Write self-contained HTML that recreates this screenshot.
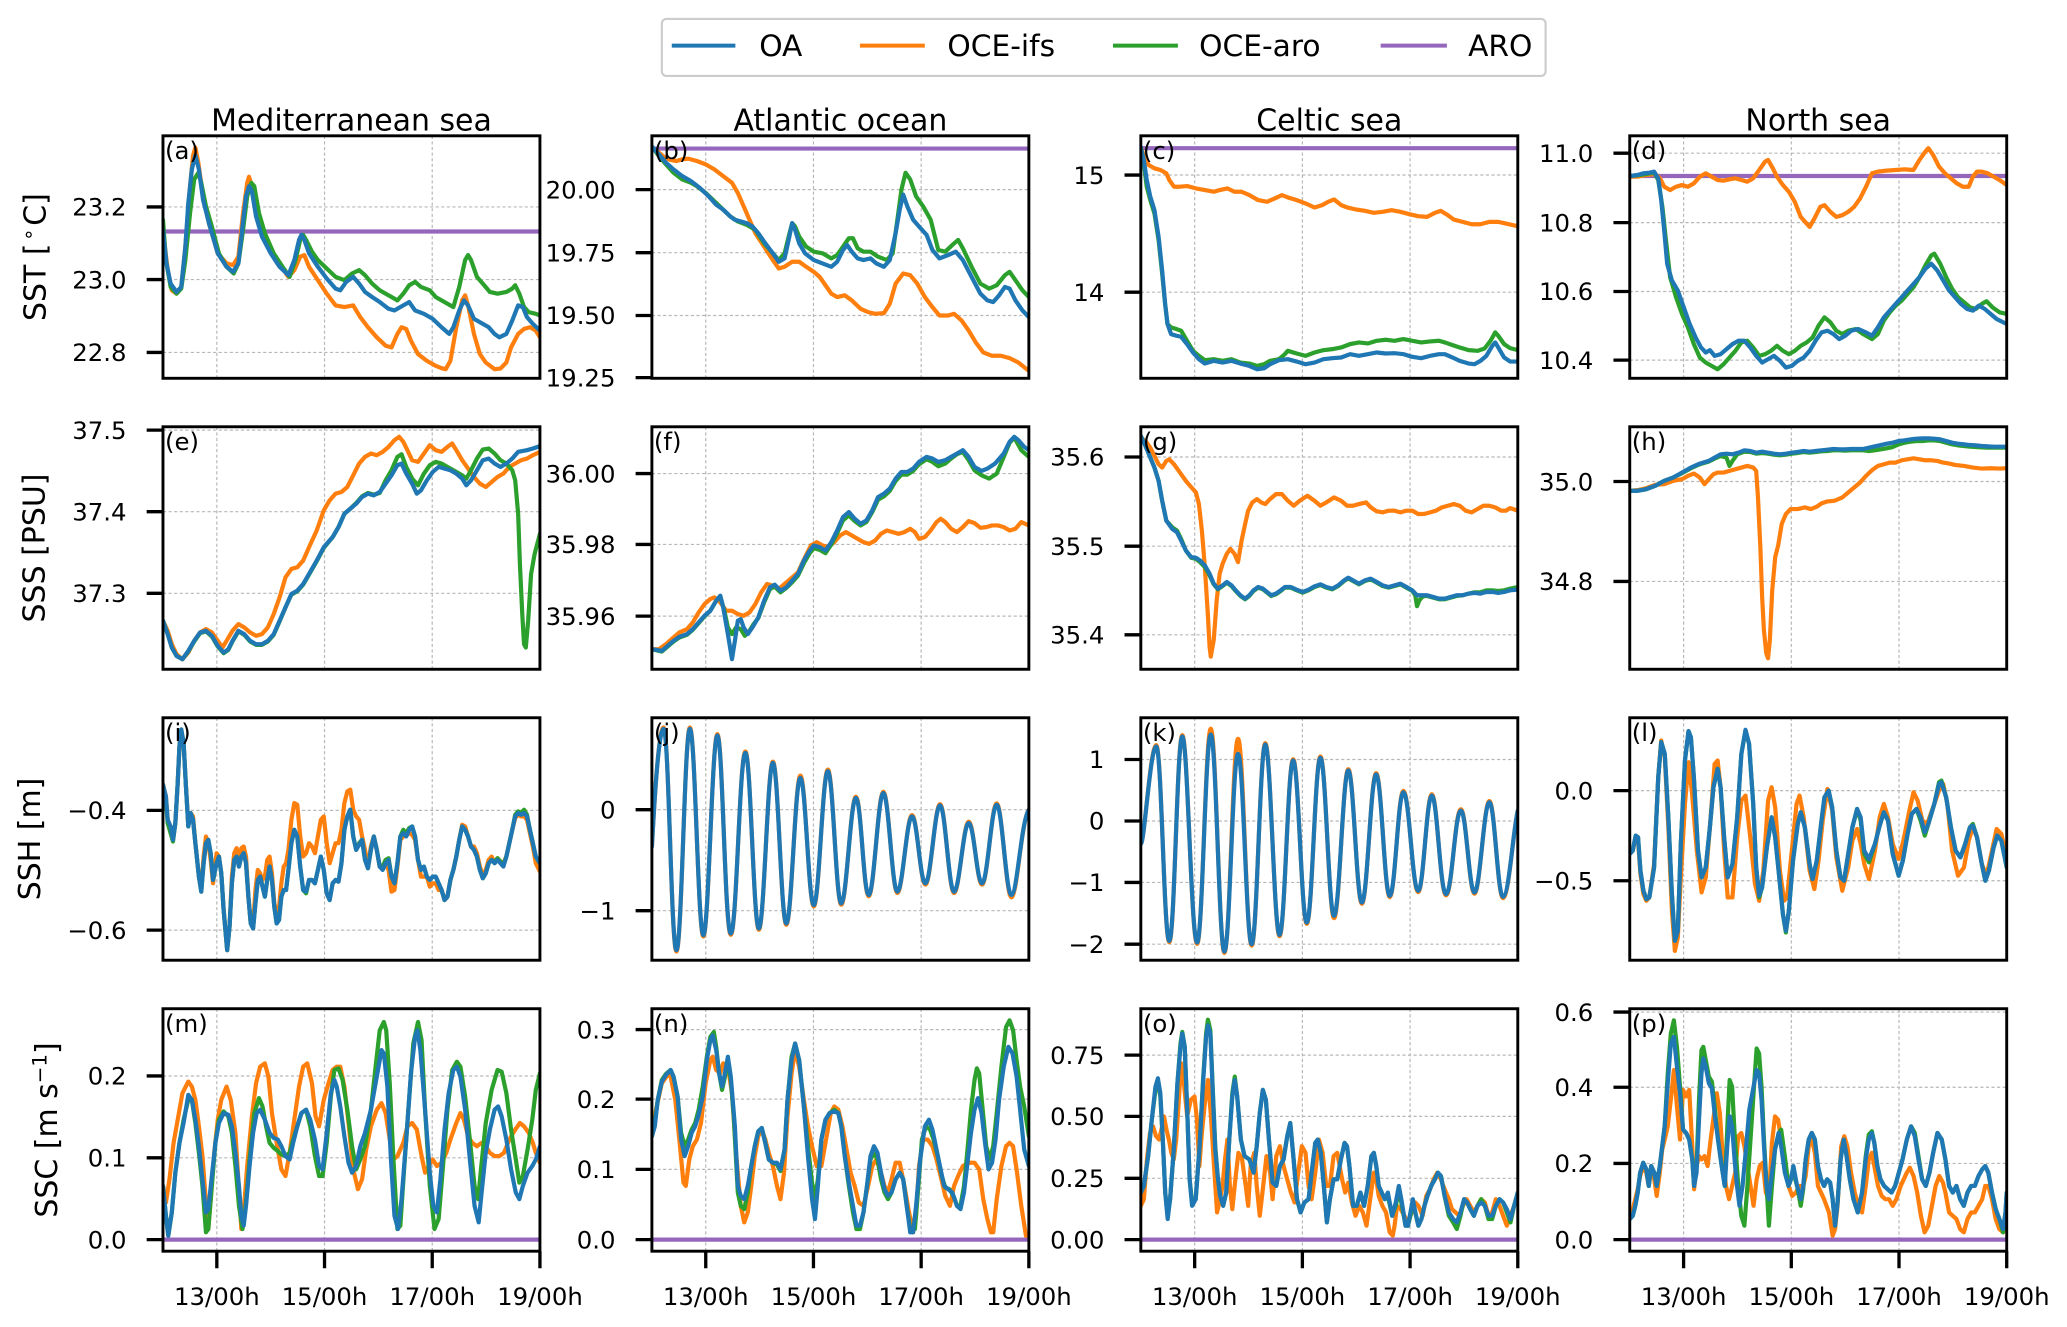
<!DOCTYPE html>
<html><head><meta charset="utf-8"><style>
html,body{margin:0;padding:0;background:#fff;overflow:hidden}
svg{display:block}
.s{fill:none;stroke-width:4.2px;vector-effect:non-scaling-stroke;stroke-linejoin:round;stroke-linecap:round}
.b{stroke:#1f77b4}.o{stroke:#ff7f0e}.g{stroke:#2ca02c}.p{stroke:#9467bd}
.gr{stroke:#b8b8b8;stroke-width:0.9;stroke-dasharray:2.4,1.8;fill:none}
.fr{fill:none;stroke:#000;stroke-width:2.2}
.tk{stroke:#000;stroke-width:2.5}
.tl{font-size:18.4px;fill:#000;text-anchor:end}
.xl{font-size:18.4px;fill:#000;text-anchor:middle}
.pl{font-size:18.4px;fill:#000}
.ti{font-size:22.6px;fill:#000;text-anchor:middle}
.yl{font-size:22.6px;fill:#000;text-anchor:middle}
.lg{font-size:22.4px;fill:#000}
</style></head><body>
<svg xmlns="http://www.w3.org/2000/svg" width="2067" height="1327" viewBox="0 0 2067 1327">
<rect width="2067" height="1327" fill="#fff"/>
<g transform="scale(1.325)" font-family="'DejaVu Sans','Liberation Sans',sans-serif">
<defs>
<clipPath id="ca"><rect x="123" y="102.5" width="284.5" height="183"/></clipPath>
<clipPath id="cb"><rect x="492" y="102.5" width="284.5" height="183"/></clipPath>
<clipPath id="cc"><rect x="861" y="102.5" width="284.5" height="183"/></clipPath>
<clipPath id="cd"><rect x="1230" y="102.5" width="284.5" height="183"/></clipPath>
<clipPath id="ce"><rect x="123" y="322.1" width="284.5" height="183"/></clipPath>
<clipPath id="cf"><rect x="492" y="322.1" width="284.5" height="183"/></clipPath>
<clipPath id="cg"><rect x="861" y="322.1" width="284.5" height="183"/></clipPath>
<clipPath id="ch"><rect x="1230" y="322.1" width="284.5" height="183"/></clipPath>
<clipPath id="ci"><rect x="123" y="541.7" width="284.5" height="183"/></clipPath>
<clipPath id="cj"><rect x="492" y="541.7" width="284.5" height="183"/></clipPath>
<clipPath id="ck"><rect x="861" y="541.7" width="284.5" height="183"/></clipPath>
<clipPath id="cl"><rect x="1230" y="541.7" width="284.5" height="183"/></clipPath>
<clipPath id="cm"><rect x="123" y="761.3" width="284.5" height="183"/></clipPath>
<clipPath id="cn"><rect x="492" y="761.3" width="284.5" height="183"/></clipPath>
<clipPath id="co"><rect x="861" y="761.3" width="284.5" height="183"/></clipPath>
<clipPath id="cp"><rect x="1230" y="761.3" width="284.5" height="183"/></clipPath>
</defs>

<!-- Legend -->
<rect x="499.5" y="14.3" width="667" height="43" rx="3.5" fill="#fff" stroke="#cccccc" stroke-width="1.6"/>
<line x1="507" y1="34.4" x2="555" y2="34.4" stroke="#1f77b4" stroke-width="3"/>
<text class="lg" x="573" y="42.2">OA</text>
<line x1="649" y1="34.4" x2="698" y2="34.4" stroke="#ff7f0e" stroke-width="3"/>
<text class="lg" x="715" y="42.2">OCE-ifs</text>
<line x1="840" y1="34.4" x2="889" y2="34.4" stroke="#2ca02c" stroke-width="3"/>
<text class="lg" x="905" y="42.2">OCE-aro</text>
<line x1="1042" y1="34.4" x2="1092" y2="34.4" stroke="#9467bd" stroke-width="3"/>
<text class="lg" x="1108" y="42.2">ARO</text>

<!-- Titles -->
<text class="ti" x="265.25" y="98.5">Mediterranean sea</text>
<text class="ti" x="634.25" y="98.5">Atlantic ocean</text>
<text class="ti" x="1003.25" y="98.5">Celtic sea</text>
<text class="ti" x="1372.25" y="98.5">North sea</text>

<!-- Y labels -->
<text class="yl" transform="translate(34.5,194) rotate(-90)">SST [<tspan font-size="15" dx="2" dy="-8">∘</tspan><tspan dx="2" dy="8">C]</tspan></text>
<text class="yl" transform="translate(33.5,413.6) rotate(-90)">SSS [PSU]</text>
<text class="yl" transform="translate(30,633.2) rotate(-90)">SSH [m]</text>
<text class="yl" transform="translate(43,852.8) rotate(-90)">SSC [m s<tspan font-size="15" dy="-8">−1</tspan><tspan dy="8">]</tspan></text>

<!-- Gridlines -->
<g class="gr">
<path d="M163.64,102.5V285.5M244.93,102.5V285.5M326.21,102.5V285.5M532.64,102.5V285.5M613.93,102.5V285.5M695.21,102.5V285.5M901.64,102.5V285.5M982.93,102.5V285.5M1064.21,102.5V285.5M1270.64,102.5V285.5M1351.93,102.5V285.5M1433.21,102.5V285.5"/>
<path d="M163.64,322.1V505.1M244.93,322.1V505.1M326.21,322.1V505.1M532.64,322.1V505.1M613.93,322.1V505.1M695.21,322.1V505.1M901.64,322.1V505.1M982.93,322.1V505.1M1064.21,322.1V505.1M1270.64,322.1V505.1M1351.93,322.1V505.1M1433.21,322.1V505.1"/>
<path d="M163.64,541.7V724.7M244.93,541.7V724.7M326.21,541.7V724.7M532.64,541.7V724.7M613.93,541.7V724.7M695.21,541.7V724.7M901.64,541.7V724.7M982.93,541.7V724.7M1064.21,541.7V724.7M1270.64,541.7V724.7M1351.93,541.7V724.7M1433.21,541.7V724.7"/>
<path d="M163.64,761.3V944.3M244.93,761.3V944.3M326.21,761.3V944.3M532.64,761.3V944.3M613.93,761.3V944.3M695.21,761.3V944.3M901.64,761.3V944.3M982.93,761.3V944.3M1064.21,761.3V944.3M1270.64,761.3V944.3M1351.93,761.3V944.3M1433.21,761.3V944.3"/>
<path d="M123,156.2H407.5M123,211H407.5M123,266H407.5"/>
<path d="M492,143.1H776.5M492,190.7H776.5M492,238.1H776.5M492,285H776.5"/>
<path d="M861,132.1H1145.5M861,220.5H1145.5"/>
<path d="M1230,115.6H1514.5M1230,168H1514.5M1230,220H1514.5M1230,271.8H1514.5"/>
<path d="M123,324.6H407.5M123,386.2H407.5M123,447.8H407.5"/>
<path d="M492,357.4H776.5M492,410.9H776.5M492,465H776.5"/>
<path d="M861,344.9H1145.5M861,412.2H1145.5M861,479.1H1145.5"/>
<path d="M1230,363.4H1514.5M1230,438.8H1514.5"/>
<path d="M123,611.6H407.5M123,702H407.5"/>
<path d="M492,611.1H776.5M492,687.3H776.5"/>
<path d="M861,573.2H1145.5M861,619.6H1145.5M861,666H1145.5M861,712.6H1145.5"/>
<path d="M1230,596.7H1514.5M1230,664.7H1514.5"/>
<path d="M123,812.05H407.5M123,873.8H407.5M123,935.55H407.5"/>
<path d="M492,777.05H776.5M492,829.55H776.5M492,882.55H776.5M492,935.55H776.5"/>
<path d="M861,796.3H1145.5M861,842.55H1145.5M861,889.3H1145.5M861,935.55H1145.5"/>
<path d="M1230,763.8H1514.5M1230,820.55H1514.5M1230,878.05H1514.5M1230,935.55H1514.5"/>
</g>

<!-- Panel a -->
<g clip-path="url(#ca)"><g transform="translate(123,102.5) scale(0.44453,0.25346) translate(-57,-50)">
<polyline class="s p" points="40,335 710,335"/>
<polyline class="s o" points="57,330 65,450 72,510 80,520 88,500 95,380 103,200 108,110 112,85 117,130 125,230 135,310 150,400 165,430 176,435 185,410 193,280 200,190 203,172 208,200 218,300 230,360 250,420 262,450 270,470 280,450 290,410 297,405 305,440 320,480 335,520 350,555 365,560 380,555 392,590 405,620 420,650 435,675 445,680 455,640 462,620 470,625 478,660 490,700 505,720 520,735 530,742 537,745 545,720 555,620 565,540 570,525 575,555 585,640 595,700 605,725 620,745 630,743 640,725 648,680 660,640 670,625 680,620 690,630 697,650"/>
<polyline class="s g" points="57,300 62,420 70,500 80,520 88,505 95,420 103,280 110,180 117,160 122,190 130,260 140,320 152,400 165,440 177,460 185,430 193,330 200,230 207,190 212,200 220,280 230,340 245,400 260,440 272,470 282,420 290,360 295,345 300,360 310,395 320,420 335,445 350,470 365,480 378,460 390,450 400,465 412,490 425,510 440,525 455,540 465,520 475,495 485,485 495,500 510,510 520,530 535,545 550,560 560,500 570,420 575,405 580,420 590,470 600,490 612,515 625,520 640,515 650,505 655,495 662,520 670,560 678,575 690,580 697,585"/>
<polyline class="s b" points="57,330 63,430 70,490 80,515 88,500 95,380 100,250 106,150 112,108 118,150 125,240 135,310 150,400 165,440 176,455 185,430 192,320 198,230 203,200 208,215 215,290 225,350 240,400 255,440 270,465 280,420 288,360 292,345 297,360 305,400 320,440 335,475 350,505 358,510 368,485 380,470 390,490 400,515 412,530 425,545 440,565 450,570 460,560 475,545 485,570 500,580 515,595 530,620 543,640 550,620 560,570 568,540 575,555 585,595 595,605 610,620 620,640 628,650 640,640 650,600 660,555 668,560 675,590 685,610 697,630"/>
</g></g>

<!-- Panel b -->
<g clip-path="url(#cb)"><g transform="translate(492,102.5) scale(0.44109,0.25346) translate(-888,-50)">
<polyline class="s p" points="870,88 1550,88"/>
<polyline class="s o" points="888,85 900,100 910,115 920,122 930,125 940,120 950,118 965,125 980,135 995,150 1010,170 1025,190 1035,220 1045,260 1055,300 1065,340 1080,380 1095,420 1105,445 1115,440 1128,425 1140,425 1152,440 1165,455 1175,470 1185,495 1195,520 1205,530 1218,525 1230,540 1245,565 1258,575 1270,580 1285,578 1295,550 1305,490 1318,460 1330,465 1342,490 1355,530 1368,560 1380,585 1395,585 1405,580 1418,600 1430,630 1442,665 1455,695 1470,705 1485,705 1500,712 1515,725 1533,750"/>
<polyline class="s g" points="888,82 900,110 912,135 925,160 940,180 955,190 965,200 980,220 995,245 1010,270 1022,290 1035,305 1050,315 1065,330 1080,370 1095,400 1105,420 1115,400 1122,350 1128,310 1133,320 1140,350 1152,380 1165,395 1180,400 1195,415 1205,405 1215,380 1225,355 1232,355 1240,385 1250,395 1262,395 1275,410 1290,420 1300,400 1308,300 1315,210 1322,160 1330,180 1340,230 1352,260 1365,300 1378,390 1390,395 1402,375 1412,360 1420,385 1435,440 1450,490 1465,505 1478,495 1492,465 1500,455 1510,480 1522,510 1533,530"/>
<polyline class="s b" points="888,82 900,105 912,130 925,150 940,170 955,185 970,205 985,230 998,255 1010,270 1022,290 1030,300 1040,305 1050,310 1060,320 1070,340 1082,370 1095,400 1105,425 1115,415 1122,360 1128,310 1133,330 1140,370 1150,400 1165,420 1180,430 1195,440 1205,425 1215,390 1222,375 1230,395 1240,415 1250,420 1262,415 1272,430 1285,440 1295,420 1305,340 1312,270 1318,225 1325,260 1335,300 1345,320 1358,345 1368,390 1380,415 1395,405 1408,395 1420,420 1435,470 1450,520 1462,540 1472,545 1482,525 1492,500 1500,505 1510,540 1522,570 1533,590"/>
</g></g>

<!-- Panel c -->
<g clip-path="url(#cc)"><g transform="translate(861,102.5) scale(0.44733,0.25276) translate(-52,-48)">
<polyline class="s p" points="35,85 705,85"/>
<polyline class="s o" points="52,82 58,110 65,135 75,145 85,150 95,160 100,180 108,200 118,200 130,198 145,205 160,210 175,215 185,210 198,205 210,215 222,215 235,225 250,240 265,245 278,235 290,225 300,232 315,240 330,250 345,262 358,255 368,245 378,238 390,255 400,262 415,268 430,272 445,278 460,275 475,270 490,275 505,282 520,288 535,290 548,278 558,272 570,285 580,298 595,305 610,312 625,312 640,305 655,305 668,310 688,318"/>
<polyline class="s g" points="52,82 57,130 62,200 68,240 75,280 82,360 88,460 93,550 97,610 103,620 112,625 120,630 130,660 140,690 150,705 160,718 175,715 190,720 205,715 220,725 235,728 248,735 260,730 270,720 285,715 295,700 300,690 315,698 330,705 345,695 360,688 375,685 390,680 405,670 420,665 435,668 450,660 465,657 480,660 495,655 510,660 525,665 540,662 555,660 565,665 578,673 590,680 605,688 620,690 632,683 642,660 650,635 655,645 665,670 675,682 688,688"/>
<polyline class="s b" points="52,82 57,120 62,180 68,230 75,270 82,350 88,450 93,550 97,610 103,640 112,645 120,648 130,670 140,695 150,715 160,728 175,720 190,725 205,720 220,728 235,735 248,745 260,742 270,730 285,718 300,715 315,722 330,730 345,725 360,715 375,712 390,710 405,700 420,705 435,700 450,695 465,698 480,697 495,700 510,708 525,712 540,705 555,700 565,700 578,710 590,720 605,728 615,730 625,720 635,705 645,675 650,665 655,680 665,710 675,722 688,722"/>
</g></g>

<!-- Panel d -->
<g clip-path="url(#cd)"><g transform="translate(1230,102.5) scale(0.44803,0.25276) translate(-877,-48)">
<polyline class="s p" points="860,168 1530,168"/>
<polyline class="s o" points="877,170 890,170 905,165 920,162 928,175 935,200 945,210 955,200 965,195 975,200 985,190 995,170 1005,160 1015,170 1025,180 1035,182 1045,178 1055,175 1065,180 1075,185 1085,175 1095,150 1105,125 1110,120 1118,145 1125,170 1135,195 1145,215 1155,245 1165,290 1175,310 1180,320 1188,295 1198,260 1205,255 1215,275 1225,290 1235,285 1245,275 1255,260 1265,235 1275,200 1285,160 1295,155 1310,152 1325,150 1340,148 1355,150 1365,120 1375,95 1380,85 1388,105 1398,140 1408,160 1418,175 1428,190 1438,200 1448,200 1455,170 1462,155 1470,155 1480,160 1490,170 1500,180 1512,195"/>
<polyline class="s g" points="877,168 890,166 905,162 918,158 925,180 932,260 938,360 945,470 955,530 965,580 975,620 985,670 995,710 1005,725 1015,735 1025,745 1035,730 1045,710 1055,690 1065,665 1075,660 1085,680 1095,705 1105,700 1115,690 1125,675 1135,690 1145,700 1155,690 1165,675 1175,665 1185,650 1195,615 1205,590 1215,605 1225,630 1235,640 1245,630 1258,625 1270,640 1285,655 1295,640 1305,600 1315,575 1325,555 1335,540 1345,520 1355,500 1365,470 1375,435 1385,405 1390,400 1400,430 1410,470 1420,505 1430,530 1440,545 1450,560 1460,565 1470,550 1478,542 1488,560 1500,575 1512,580"/>
<polyline class="s b" points="877,168 890,165 900,160 910,158 918,155 925,175 930,240 935,330 940,430 948,480 958,510 968,560 978,610 988,650 997,680 1005,695 1012,688 1020,705 1030,700 1040,685 1050,670 1060,660 1070,660 1080,680 1090,705 1100,725 1110,715 1120,705 1130,720 1140,740 1150,735 1160,720 1170,710 1180,690 1190,660 1200,635 1210,630 1220,640 1230,655 1240,645 1250,630 1262,625 1275,635 1285,645 1295,620 1305,590 1315,570 1325,550 1335,530 1345,510 1355,490 1365,470 1375,445 1385,430 1395,450 1405,480 1415,510 1425,530 1435,550 1445,565 1455,570 1465,555 1475,565 1485,580 1495,595 1512,610"/>
</g></g>

<!-- Panel e -->
<g clip-path="url(#ce)"><g transform="translate(123,322.1) scale(0.44453,0.25241) translate(-57,-40)">
<polyline class="s o" points="57,620 65,650 72,690 80,720 90,735 100,715 110,680 120,655 130,645 140,655 150,680 158,700 165,680 175,650 185,630 195,640 205,655 215,665 225,660 235,640 245,600 255,550 265,490 275,465 285,460 295,440 305,400 318,350 330,290 340,260 350,240 360,235 370,220 380,185 390,150 400,130 410,120 420,125 430,115 440,100 450,80 458,70 465,85 472,110 480,140 490,145 500,120 510,95 520,110 530,115 540,100 548,90 555,110 565,140 575,165 585,190 595,210 605,220 615,205 625,190 635,180 645,160 655,150 665,140 675,135 685,125 697,115"/>
<polyline class="s g" points="57,620 65,660 72,700 80,725 90,735 100,712 110,682 120,657 130,652 140,667 150,697 160,717 168,707 175,682 185,652 195,662 205,682 215,692 225,692 235,682 245,662 255,622 265,580 275,542 285,532 295,512 305,482 318,442 330,402 345,370 355,340 365,300 375,285 385,268 395,248 405,238 415,243 425,238 435,200 445,170 455,130 462,122 470,160 480,195 490,215 500,180 510,155 520,145 530,150 540,160 550,170 565,185 572,195 580,170 590,135 600,108 610,105 620,120 630,140 640,150 650,170 655,200 660,300 663,450 667,600 670,690 673,700 677,620 682,480 688,420 697,360"/>
<polyline class="s b" points="57,620 65,660 72,700 80,725 90,735 100,710 110,680 120,655 130,650 140,665 150,695 160,715 168,705 175,680 185,650 195,660 205,680 215,690 225,690 235,680 245,660 255,620 265,580 275,540 285,530 295,510 305,480 318,440 330,400 345,370 355,340 365,300 375,285 385,270 395,250 405,240 415,245 425,235 435,210 445,185 455,155 462,150 470,180 480,210 488,240 495,230 505,200 515,175 525,160 535,165 545,170 555,180 565,195 572,215 580,200 590,170 600,140 610,135 620,150 630,160 640,150 650,135 660,115 675,110 685,105 697,98"/>
</g></g>

<!-- Panel f -->
<g clip-path="url(#cf)"><g transform="translate(492,322.1) scale(0.44109,0.25241) translate(-888,-40)">
<polyline class="s o" points="888,705 900,705 912,690 925,670 935,655 948,645 958,625 968,595 978,570 988,555 995,550 1005,565 1015,590 1025,590 1035,600 1045,605 1055,595 1065,570 1075,535 1085,510 1095,515 1105,525 1115,510 1125,495 1138,475 1150,430 1160,395 1170,385 1180,395 1190,400 1200,385 1210,365 1220,355 1230,365 1240,375 1250,385 1260,390 1270,380 1280,360 1290,350 1300,355 1310,360 1320,355 1330,345 1338,355 1345,375 1355,370 1365,350 1375,325 1382,315 1390,325 1400,345 1410,355 1420,340 1430,322 1440,328 1450,342 1460,340 1470,335 1480,335 1490,340 1500,350 1510,345 1520,325 1533,335"/>
<polyline class="s g" points="888,705 895,708 905,712 915,697 925,682 935,670 948,662 958,647 968,627 978,607 988,590 998,560 1005,548 1012,590 1018,640 1025,660 1032,640 1040,645 1047,665 1055,650 1062,630 1070,612 1080,565 1090,525 1098,518 1108,535 1118,522 1128,505 1138,485 1148,448 1158,418 1165,403 1175,408 1185,418 1195,392 1205,358 1215,320 1225,305 1235,322 1245,335 1255,325 1265,295 1275,258 1285,248 1295,232 1305,202 1315,183 1325,183 1335,172 1345,152 1358,137 1368,145 1378,158 1390,150 1400,135 1410,122 1420,115 1430,140 1440,170 1452,185 1465,195 1478,180 1490,130 1500,88 1508,72 1520,110 1533,130"/>
<polyline class="s b" points="888,705 895,707 905,710 915,695 925,680 935,668 948,660 958,645 968,625 978,605 988,590 998,560 1005,545 1010,580 1018,660 1025,735 1030,680 1035,620 1040,615 1045,640 1052,660 1060,640 1070,610 1080,560 1090,520 1098,512 1108,530 1118,520 1128,500 1138,480 1148,440 1158,410 1165,395 1175,400 1185,410 1195,385 1205,350 1215,310 1225,295 1235,315 1245,330 1255,320 1265,290 1275,250 1285,240 1295,225 1305,195 1315,175 1325,175 1335,165 1345,145 1358,130 1368,135 1378,145 1390,140 1400,130 1410,120 1420,110 1430,130 1440,160 1452,172 1462,165 1475,150 1490,120 1500,85 1508,70 1515,80 1525,100 1533,110"/>
</g></g>

<!-- Panel g -->
<g clip-path="url(#cg)"><g transform="translate(861,322.1) scale(0.44733,0.25034) translate(-52,-37)">
<polyline class="s o" points="52,70 60,80 68,100 75,125 82,150 88,160 95,140 100,135 108,150 118,175 128,200 135,215 140,225 145,235 150,270 155,350 160,460 165,600 168,700 170,730 175,680 180,560 185,480 190,450 197,420 203,405 210,420 216,445 222,380 228,330 233,290 240,265 248,255 255,265 262,270 270,255 280,240 290,240 300,260 310,275 320,260 333,245 345,260 355,275 365,265 378,250 390,260 400,275 410,275 420,270 432,265 440,280 450,292 460,295 470,290 480,290 490,295 500,290 510,290 520,300 530,300 540,295 550,290 560,280 570,275 580,270 590,275 600,290 610,295 620,285 630,275 640,275 650,280 660,290 668,290 675,282 688,290"/>
<polyline class="s g" points="52,65 60,95 68,130 75,160 82,200 88,260 95,320 105,340 113,350 120,375 128,410 137,432 145,435 152,445 160,460 168,485 175,512 182,527 190,517 197,507 205,517 212,532 220,547 228,557 235,547 242,532 250,522 258,527 265,537 272,547 280,542 288,532 295,522 305,522 315,530 325,537 335,530 345,520 355,514 365,522 375,527 385,517 395,502 402,494 410,502 420,512 430,502 440,497 450,507 460,517 470,522 480,517 490,512 500,522 510,532 515,545 518,578 522,560 528,548 535,547 545,552 555,557 565,557 575,552 585,547 595,545 605,540 615,536 625,536 635,530 645,530 655,532 665,530 675,525 688,520"/>
<polyline class="s b" points="52,65 60,95 68,130 75,160 82,200 88,260 95,320 105,345 113,355 120,380 128,410 137,430 145,432 152,440 160,455 168,480 175,510 182,525 190,515 197,505 205,515 212,530 220,545 228,555 235,545 242,530 250,520 258,525 265,535 272,545 280,540 288,530 295,520 305,520 315,528 325,535 335,528 345,518 355,512 365,520 375,525 385,515 395,500 402,492 410,500 420,510 430,500 440,495 450,505 460,515 470,520 480,515 490,510 500,520 510,530 518,545 525,545 535,545 545,550 555,555 565,555 575,550 585,545 595,545 605,540 615,538 625,540 635,535 645,535 655,538 665,535 675,530 688,528"/>
</g></g>

<!-- Panel h -->
<g clip-path="url(#ch)"><g transform="translate(1230,322.1) scale(0.44803,0.25034) translate(-877,-37)">
<polyline class="s o" points="877,230 890,228 905,222 920,212 935,210 950,200 965,195 975,185 985,178 995,190 1003,210 1010,195 1018,180 1025,175 1035,175 1045,170 1055,165 1065,160 1075,155 1085,160 1090,170 1093,250 1097,400 1100,550 1103,650 1107,720 1110,735 1113,680 1117,530 1122,430 1127,395 1133,330 1140,300 1148,285 1160,285 1172,280 1182,285 1192,278 1200,268 1210,262 1222,260 1235,250 1245,235 1255,220 1265,205 1275,185 1285,168 1295,155 1305,150 1315,145 1325,145 1335,138 1345,135 1355,132 1365,135 1375,138 1385,138 1395,140 1405,145 1415,148 1425,152 1440,155 1455,160 1470,163 1485,162 1500,163 1512,162"/>
<polyline class="s g" points="877,230 890,230 905,225 920,215 935,200 950,190 965,177 980,162 995,150 1010,142 1020,133 1030,125 1040,130 1045,155 1050,140 1058,120 1070,112 1080,113 1090,118 1100,116 1110,118 1120,121 1130,123 1140,121 1150,118 1160,116 1170,113 1180,115 1190,113 1200,111 1210,110 1220,108 1230,108 1240,109 1250,108 1260,108 1270,108 1280,110 1290,108 1300,105 1310,102 1320,98 1330,90 1340,85 1350,82 1360,80 1370,80 1380,78 1390,78 1400,80 1410,85 1420,90 1430,93 1440,95 1450,97 1460,98 1470,99 1480,100 1490,100 1512,100"/>
<polyline class="s b" points="877,230 890,230 905,225 920,215 935,200 950,190 965,175 980,160 995,148 1010,140 1020,130 1030,120 1040,118 1050,120 1060,115 1070,108 1080,110 1090,115 1100,112 1110,115 1120,118 1130,120 1140,118 1150,115 1160,113 1170,110 1180,112 1190,110 1200,108 1210,106 1220,104 1230,105 1240,105 1250,104 1260,104 1270,104 1280,100 1290,96 1300,92 1310,88 1320,85 1330,80 1340,78 1350,75 1360,73 1370,72 1380,72 1390,73 1400,75 1410,80 1420,85 1430,88 1440,90 1450,92 1460,93 1470,95 1480,96 1490,97 1500,97 1512,97"/>
</g></g>

<!-- Panel i -->
<g clip-path="url(#ci)"><g transform="translate(123,541.7) scale(0.44453,0.25241) translate(-57,-25)">
<polyline class="s o" points="57,225 62,260 65,330 70,370 74,390 78,340 82,220 85,110 88,60 92,100 96,230 100,340 104,310 108,320 112,400 118,500 122,540 126,440 130,380 134,400 138,450 142,520 148,430 152,440 156,490 160,600 164,680 166,720 170,650 174,500 178,430 182,415 186,450 190,415 194,410 198,440 202,560 206,640 210,640 214,540 218,480 222,490 226,510 230,500 234,450 238,440 242,490 246,580 250,610 254,590 258,520 262,470 266,460 270,420 275,330 280,280 285,285 290,380 295,440 300,430 305,400 310,410 315,430 320,380 325,330 330,320 335,400 340,460 345,430 350,400 355,400 360,360 365,280 370,245 375,240 380,300 385,320 390,330 395,380 400,420 405,470 410,410 415,380 420,420 425,470 430,470 435,460 440,480 445,545 450,540 455,470 460,390 465,380 470,375 475,370 480,375 485,390 490,450 495,500 500,500 505,500 510,530 515,520 520,520 525,540 530,540 535,570 540,560 545,510 550,480 555,440 560,390 565,345 570,350 575,380 580,410 585,410 590,430 595,470 600,495 605,480 610,450 615,440 620,460 625,445 630,455 635,460 640,440 645,400 650,360 655,325 660,315 665,320 670,320 675,330 680,370 685,410 690,460 697,485"/>
<polyline class="s g" points="57,225 62,270 65,340 70,370 74,395 78,340 82,220 85,110 88,60 92,100 96,230 100,350 104,310 108,330 112,400 118,500 122,545 126,460 130,400 134,390 138,430 142,510 148,460 152,440 156,490 160,600 164,680 166,720 170,650 174,520 178,450 182,440 186,470 190,440 194,430 198,460 202,560 206,640 210,655 214,580 218,510 222,500 226,530 230,560 234,510 238,470 242,510 246,590 250,640 254,630 258,560 262,540 266,540 270,480 275,400 280,360 285,380 290,470 295,540 300,550 305,510 310,510 315,520 320,480 325,440 330,480 335,550 340,570 345,520 350,510 355,515 360,460 365,360 370,320 375,300 380,380 385,420 390,400 395,390 400,450 405,475 410,420 415,380 420,420 425,470 430,470 435,450 440,445 445,500 450,520 455,460 460,380 465,360 470,370 475,355 480,350 485,380 490,450 495,480 500,470 505,500 510,510 515,500 520,500 525,520 530,540 535,570 540,560 545,510 550,480 555,440 560,390 565,350 570,360 575,380 580,410 585,420 590,440 595,480 600,505 605,490 610,460 615,450 620,455 625,445 630,455 635,465 640,440 645,400 650,360 655,315 660,305 665,310 670,300 675,315 680,360 685,400 690,440 697,460"/>
<polyline class="s b" points="57,225 62,260 65,330 70,350 74,390 78,340 82,220 85,110 88,60 92,100 96,230 100,350 104,310 108,330 112,400 118,500 122,545 126,460 130,400 134,390 138,430 142,510 148,460 152,440 156,490 160,600 164,680 166,720 170,650 174,520 178,450 182,440 186,470 190,440 194,430 198,460 202,560 206,640 210,655 214,580 218,510 222,500 226,530 230,560 234,510 238,470 242,510 246,590 250,640 254,630 258,560 262,540 266,540 270,480 275,400 280,360 285,380 290,470 295,540 300,545 305,510 310,510 315,520 320,480 325,440 330,480 335,550 340,570 345,520 350,510 355,515 360,460 365,360 370,320 375,300 380,380 385,420 390,405 395,390 400,450 405,475 410,420 415,380 420,420 425,470 430,480 435,460 440,450 445,500 450,520 455,460 460,380 465,370 470,380 475,360 480,350 485,380 490,450 495,480 500,470 505,500 510,510 515,500 520,500 525,520 530,540 535,570 540,560 545,510 550,480 555,440 560,390 565,350 570,360 575,380 580,410 585,420 590,440 595,480 600,505 605,490 610,460 615,450 620,460 625,450 630,460 635,470 640,440 645,400 650,360 655,320 660,310 665,315 670,310 675,320 680,360 685,400 690,440 697,460"/>
</g></g>

<!-- Panel j -->
<g clip-path="url(#cj)"><g transform="translate(492,541.7) scale(0.44109,0.25241) translate(-888,-25)">
<path class="s o" d="M888,410 C893,250 900,54 908,54 C917,54 921,724 930,724 C939,724 944,54 953,54 C962,54 967,679 976,679 C985,679 991,74 1000,74 C1009,74 1013,674 1023,674 C1033,674 1038,126 1048,126 C1057,126 1062,659 1071,659 C1080,659 1086,156 1095,156 C1104,156 1109,644 1118,644 C1127,644 1133,198 1142,198 C1151,198 1156,589 1165,589 C1174,589 1180,180 1189,180 C1198,180 1203,584 1212,584 C1221,584 1228,261 1237,261 C1246,261 1250,559 1259,559 C1268,559 1275,246 1284,246 C1293,246 1299,549 1308,549 C1317,549 1324,316 1333,316 C1342,316 1347,524 1356,524 C1365,524 1372,283 1381,283 C1390,283 1396,549 1405,549 C1414,549 1421,336 1430,336 C1439,336 1444,524 1453,524 C1462,524 1469,281 1478,281 C1487,281 1494,562 1503,562 C1513,562 1520,330 1533,300"/>
<path class="s b" d="M888,410 C893,250 900,58 908,58 C917,58 921,720 930,720 C939,720 944,58 953,58 C962,58 967,675 976,675 C985,675 991,78 1000,78 C1009,78 1013,670 1023,670 C1033,670 1038,130 1048,130 C1057,130 1062,655 1071,655 C1080,655 1086,160 1095,160 C1104,160 1109,640 1118,640 C1127,640 1133,205 1142,205 C1151,205 1156,585 1165,585 C1174,585 1180,185 1189,185 C1198,185 1203,580 1212,580 C1221,580 1228,265 1237,265 C1246,265 1250,555 1259,555 C1268,555 1275,250 1284,250 C1293,250 1299,545 1308,545 C1317,545 1324,320 1333,320 C1342,320 1347,520 1356,520 C1365,520 1372,287 1381,287 C1390,287 1396,545 1405,545 C1414,545 1421,340 1430,340 C1439,340 1444,520 1453,520 C1462,520 1469,285 1478,285 C1487,285 1494,555 1503,555 C1513,555 1520,330 1533,300"/>
</g></g>

<!-- Panel k -->
<g clip-path="url(#ck)"><g transform="translate(861,541.7) scale(0.44733,0.25207) translate(-52,-22)">
<path class="s o" d="M52,400 C58,398 68,104 78,104 C87,104 91,694 100,694 C109,694 113,74 122,74 C131,74 137,699 147,699 C156,699 161,55 170,55 C179,55 184,726 193,726 C202,726 207,85 216,85 C225,85 230,704 239,704 C248,704 253,98 262,98 C271,98 277,676 286,676 C295,676 300,146 309,146 C318,146 323,639 332,639 C341,639 346,138 355,138 C364,138 369,622 378,622 C387,622 393,176 402,176 C411,176 416,579 425,579 C434,579 440,188 449,188 C458,188 463,559 472,559 C481,559 486,241 495,241 C505,241 510,544 520,544 C529,544 534,251 543,251 C552,251 557,554 567,554 C577,554 582,296 592,296 C601,296 606,549 615,549 C624,549 631,271 640,271 C649,271 654,562 663,562 C673,562 680,360 688,300"/>
<path class="s b" d="M52,400 C58,398 68,108 78,108 C87,108 91,690 100,690 C109,690 113,78 122,78 C131,78 137,695 147,695 C156,695 161,72 170,72 C179,72 184,722 193,722 C202,722 207,130 216,130 C225,130 230,700 239,700 C248,700 253,102 262,102 C271,102 277,672 286,672 C295,672 300,150 309,150 C318,150 323,635 332,635 C341,635 346,142 355,142 C364,142 369,615 378,615 C387,615 393,180 402,180 C411,180 416,575 425,575 C434,575 440,192 449,192 C458,192 463,555 472,555 C481,555 486,245 495,245 C505,245 510,540 520,540 C529,540 534,255 543,255 C552,255 557,550 567,550 C577,550 582,300 592,300 C601,300 606,545 615,545 C624,545 631,275 640,275 C649,275 654,558 663,558 C673,558 680,360 688,300"/>
</g></g>

<!-- Panel l -->
<g clip-path="url(#cl)"><g transform="translate(1230,541.7) scale(0.44803,0.25207) translate(-877,-22)">
<polyline class="s o" points="877,420 882,420 887,380 891,390 895,490 900,550 905,570 910,560 918,460 925,200 930,90 936,140 942,350 948,600 953,720 958,680 963,500 970,280 976,155 982,250 990,420 998,545 1005,500 1012,350 1020,160 1025,150 1030,230 1036,420 1042,560 1050,560 1058,380 1065,270 1072,255 1080,380 1088,520 1095,570 1102,480 1110,270 1116,230 1122,290 1130,480 1137,570 1142,560 1150,420 1158,280 1163,255 1170,320 1180,480 1188,535 1195,450 1202,330 1210,235 1218,300 1225,440 1235,540 1245,470 1252,390 1260,355 1266,400 1272,460 1280,505 1290,420 1298,320 1305,280 1312,320 1320,400 1330,445 1338,390 1348,300 1355,245 1362,270 1370,330 1378,340 1388,290 1398,240 1405,220 1412,280 1420,420 1430,495 1440,470 1448,390 1455,350 1462,380 1470,460 1478,495 1486,430 1495,355 1503,370 1512,440"/>
<polyline class="s g" points="877,430 882,420 887,375 891,380 895,480 900,540 905,565 910,560 918,470 925,200 930,95 936,130 942,320 948,550 953,690 958,660 963,400 970,150 976,62 980,80 985,200 992,420 998,500 1005,470 1012,350 1018,230 1025,175 1030,230 1036,380 1042,500 1050,460 1058,320 1065,130 1072,62 1078,100 1085,280 1090,470 1095,560 1100,530 1108,410 1116,320 1122,380 1130,520 1135,610 1140,665 1145,600 1152,450 1160,340 1165,305 1172,350 1180,460 1185,505 1192,450 1200,330 1205,260 1212,240 1218,290 1225,420 1232,500 1238,510 1245,430 1252,350 1260,295 1266,330 1272,430 1280,455 1290,400 1298,345 1305,305 1312,330 1320,430 1330,495 1337,450 1345,370 1352,310 1360,295 1367,330 1374,375 1380,340 1390,280 1398,215 1402,210 1410,260 1418,350 1426,420 1434,440 1442,400 1450,350 1455,340 1462,380 1470,460 1476,510 1482,480 1490,410 1496,375 1503,390 1512,470"/>
<polyline class="s b" points="877,430 882,420 887,375 891,380 895,480 900,540 905,565 910,560 918,470 925,200 930,95 936,130 942,320 948,550 953,690 958,660 963,400 970,150 976,62 980,80 985,200 992,420 998,500 1005,470 1012,350 1018,230 1025,175 1030,230 1036,380 1042,500 1050,460 1058,320 1065,130 1072,58 1078,100 1085,280 1090,470 1095,555 1100,530 1108,410 1116,320 1122,380 1130,520 1135,610 1140,660 1145,600 1152,450 1160,340 1165,305 1172,350 1180,460 1185,505 1192,450 1200,330 1205,260 1212,240 1218,290 1225,420 1232,500 1238,510 1245,430 1252,350 1260,295 1266,320 1272,420 1280,445 1290,400 1298,345 1305,305 1312,330 1320,430 1330,495 1337,450 1345,370 1352,310 1360,295 1367,320 1374,365 1380,340 1390,280 1398,220 1402,215 1410,260 1418,350 1426,420 1434,440 1442,400 1450,350 1455,345 1462,380 1470,460 1476,510 1482,480 1490,410 1496,375 1503,390 1512,470"/>
</g></g>

<!-- Panel m -->
<g clip-path="url(#cm)"><g transform="translate(123,761.3) scale(0.44453,0.25) translate(-57,-25)">
<polyline class="s p" points="40,722 710,722"/>
<polyline class="s o" points="57,560 62,610 68,540 75,430 82,360 90,280 100,245 106,260 112,300 118,380 124,470 130,610 134,690 138,600 144,460 150,360 156,300 165,260 172,300 180,400 186,570 190,690 194,640 200,500 208,350 215,250 222,200 230,190 236,230 242,340 250,430 258,510 265,530 272,460 280,360 288,260 295,200 302,190 310,250 316,350 322,380 330,300 338,250 345,210 352,200 358,200 365,260 372,370 380,510 388,570 395,540 402,450 410,380 420,330 428,310 435,340 442,420 448,480 455,470 465,430 472,380 480,370 488,390 495,460 502,520 508,500 515,480 522,500 530,490 538,460 545,420 555,370 562,340 568,360 575,410 582,430 590,440 598,430 605,440 612,460 620,470 628,470 636,460 645,420 655,390 663,370 670,380 678,400 685,430 690,460 697,490"/>
<polyline class="s g" points="57,560 62,650 66,710 72,640 78,520 85,430 92,360 100,300 106,300 112,370 118,460 124,560 130,700 134,690 140,560 146,430 152,360 160,335 168,350 174,400 180,500 186,620 192,690 198,610 204,480 212,340 220,295 226,320 232,380 238,430 245,445 252,455 258,465 265,470 272,460 278,420 285,380 292,340 300,330 307,380 315,470 322,530 328,530 335,430 342,290 348,210 355,205 362,240 370,330 378,440 385,510 392,480 400,440 410,330 418,200 425,90 432,65 436,90 442,250 448,470 455,690 460,680 466,520 474,320 482,130 490,65 496,120 502,330 510,560 518,690 525,660 532,510 540,330 548,210 556,185 562,200 570,290 578,420 586,560 592,600 598,490 605,370 615,270 625,210 632,215 640,280 648,390 656,480 662,550 668,530 676,450 684,360 690,270 697,220"/>
<polyline class="s b" points="57,560 62,650 66,710 72,640 78,520 85,430 92,370 100,285 106,300 112,360 118,440 124,540 130,640 134,630 140,530 146,430 152,370 160,340 168,345 174,380 180,460 186,560 190,650 194,680 198,620 204,500 210,400 216,340 222,330 230,360 238,400 245,415 252,420 258,440 265,470 272,480 278,430 285,380 292,340 300,330 307,360 315,420 322,500 328,510 335,400 342,280 348,240 352,260 358,320 365,410 372,490 378,520 385,500 392,440 400,400 410,330 420,230 428,150 432,160 438,260 444,480 450,650 456,690 462,600 470,420 478,220 485,110 489,90 494,150 502,330 510,520 516,620 522,640 528,540 535,390 542,280 550,210 556,200 562,230 570,330 578,480 586,620 593,670 598,580 605,460 612,390 620,330 626,320 632,350 640,420 648,510 656,580 662,600 668,560 676,520 684,500 690,480 697,440"/>
</g></g>

<!-- Panel n -->
<g clip-path="url(#cn)"><g transform="translate(492,761.3) scale(0.44109,0.25) translate(-888,-25)">
<polyline class="s p" points="870,722 1550,722"/>
<polyline class="s o" points="888,410 895,330 905,250 915,225 920,230 928,300 935,420 942,550 946,560 952,480 958,440 965,420 972,370 980,250 988,180 992,170 998,210 1005,220 1010,190 1018,200 1025,280 1032,460 1040,620 1046,670 1052,640 1058,560 1064,470 1070,410 1076,390 1082,420 1088,460 1095,500 1102,560 1108,600 1114,520 1120,350 1127,220 1133,150 1140,200 1148,300 1155,380 1162,440 1170,500 1178,500 1186,420 1194,340 1200,320 1207,330 1214,380 1220,440 1228,520 1235,560 1242,610 1250,620 1258,560 1265,500 1272,480 1280,520 1286,560 1292,580 1298,540 1305,490 1312,490 1320,560 1328,640 1335,700 1340,650 1345,500 1352,420 1360,420 1368,440 1375,480 1382,530 1390,590 1398,620 1405,560 1412,530 1420,500 1430,490 1440,490 1448,510 1455,600 1462,660 1468,700 1472,700 1478,600 1486,500 1494,440 1500,430 1506,440 1512,510 1520,620 1528,710 1533,710"/>
<polyline class="s g" points="888,410 893,370 898,300 905,240 912,222 920,210 925,230 932,290 938,400 944,440 950,420 956,390 962,370 968,330 975,260 982,170 988,110 994,95 998,140 1003,220 1008,270 1013,230 1018,180 1023,240 1028,350 1035,580 1040,620 1046,630 1052,580 1058,500 1064,440 1070,395 1076,385 1082,430 1088,480 1095,490 1102,495 1108,515 1115,450 1120,300 1127,170 1133,130 1140,180 1148,320 1155,440 1162,550 1167,600 1172,540 1178,420 1185,360 1192,340 1200,330 1207,340 1212,380 1218,470 1225,560 1232,640 1238,690 1244,690 1250,640 1256,560 1262,480 1268,460 1274,480 1280,540 1286,580 1292,600 1298,580 1305,540 1312,520 1318,540 1324,620 1330,690 1338,690 1344,560 1350,420 1357,380 1364,390 1370,420 1377,470 1384,530 1390,565 1397,570 1404,590 1410,620 1416,620 1422,560 1428,450 1434,330 1440,240 1444,205 1448,220 1454,330 1460,440 1466,480 1472,440 1478,340 1486,200 1494,80 1500,60 1506,90 1512,180 1518,260 1525,320 1533,410"/>
<polyline class="s b" points="888,410 893,380 898,300 905,245 912,225 920,210 925,230 932,290 938,420 944,470 950,440 956,400 962,380 968,345 975,290 982,180 988,120 992,105 998,150 1003,220 1008,260 1013,220 1018,170 1023,230 1030,380 1035,560 1040,590 1046,600 1052,560 1058,500 1064,440 1070,395 1076,385 1082,430 1088,480 1095,490 1102,490 1108,510 1115,450 1120,300 1127,180 1133,130 1140,180 1148,320 1155,470 1162,600 1167,660 1172,560 1178,420 1185,360 1192,340 1200,335 1207,340 1212,380 1218,470 1225,550 1232,620 1238,680 1244,680 1250,640 1256,560 1262,470 1268,440 1274,460 1280,520 1286,570 1292,590 1298,580 1305,540 1312,520 1318,540 1324,620 1330,700 1335,700 1340,620 1347,480 1355,380 1362,360 1368,390 1375,450 1382,510 1388,560 1395,570 1402,580 1410,620 1416,630 1422,580 1428,490 1434,400 1440,330 1446,295 1452,340 1458,430 1464,510 1470,490 1476,420 1482,300 1490,200 1498,140 1505,160 1512,230 1518,330 1525,450 1533,500"/>
</g></g>

<!-- Panel o -->
<g clip-path="url(#co)"><g transform="translate(861,761.3) scale(0.46036,0.25) translate(-50,-25)">
<polyline class="s p" points="35,722 685,722"/>
<polyline class="s o" points="50,620 55,600 60,480 65,400 70,380 75,410 80,420 85,380 88,350 92,390 96,420 100,460 104,480 108,420 112,310 116,190 120,240 126,350 132,300 138,290 142,360 146,500 150,400 155,310 160,240 165,350 170,500 175,640 180,600 184,560 188,480 192,420 196,560 200,630 205,540 210,460 216,480 222,560 226,620 230,500 236,460 240,560 245,650 250,570 256,470 262,520 266,600 272,470 278,440 284,500 290,540 296,580 302,610 308,520 314,440 320,460 325,560 330,600 336,520 342,420 348,460 354,560 360,560 366,470 372,460 380,540 385,580 390,550 396,610 402,650 408,620 414,640 420,680 426,600 432,520 436,540 440,590 446,620 452,640 458,700 463,710 466,680 470,620 476,630 482,650 488,670 494,640 500,610 505,620 512,650 518,590 524,570 530,540 536,520 542,540 548,570 555,600 560,630 566,640 572,650 578,620 584,600 590,620 596,640 602,620 608,600 614,610 620,650 626,640 632,600 638,620 644,650 650,680 656,650 662,620 668,580"/>
<polyline class="s g" points="50,580 55,560 62,470 68,360 74,270 78,245 82,290 86,420 90,580 94,650 98,600 104,450 110,250 115,130 118,95 122,140 126,330 130,540 134,610 140,600 146,450 152,240 157,100 160,58 164,90 168,270 172,440 176,530 180,590 185,620 190,580 195,420 200,280 204,230 208,290 214,420 220,470 228,480 235,520 240,440 245,340 250,270 255,300 260,420 266,550 272,560 278,500 284,480 290,410 295,370 300,470 306,600 312,640 318,610 325,600 330,520 336,430 340,420 345,460 350,560 355,670 360,600 366,540 372,540 378,480 384,430 388,440 392,500 398,620 404,620 410,580 416,620 422,560 428,470 432,460 436,500 440,560 445,580 450,600 455,590 462,650 468,620 473,570 478,620 484,680 488,680 492,650 496,610 500,640 505,680 510,660 515,620 520,590 526,560 532,540 537,520 542,530 548,590 555,650 562,670 568,690 574,650 580,600 585,610 590,630 596,650 602,620 608,600 614,620 620,660 626,660 632,620 638,600 644,610 650,640 656,670 662,620 668,580"/>
<polyline class="s b" points="50,580 55,560 62,470 68,360 74,260 78,235 82,280 86,420 90,580 94,660 98,600 104,450 110,250 115,140 118,100 122,140 126,330 130,540 134,620 140,600 146,450 152,250 157,110 160,75 164,100 168,280 172,450 176,530 180,590 185,620 190,580 195,420 200,290 204,240 208,290 214,420 220,470 228,480 235,520 240,440 245,340 250,270 255,300 260,420 266,550 272,560 278,500 284,480 290,410 295,370 300,470 306,600 312,640 318,610 325,600 330,520 336,430 340,420 345,460 350,560 355,670 360,600 366,540 372,540 378,480 384,430 388,440 392,500 398,620 404,620 410,580 416,620 422,560 428,470 432,460 436,500 440,560 445,580 450,600 455,580 462,650 468,610 473,560 478,610 484,680 488,680 492,640 496,600 500,640 505,680 510,660 515,620 520,590 526,560 532,540 537,520 542,530 548,590 555,640 562,660 568,670 574,640 580,600 585,610 590,630 596,650 602,620 608,610 614,620 620,650 626,650 632,620 638,600 644,610 650,630 656,660 662,620 668,580"/>
</g></g>

<!-- Panel p -->
<g clip-path="url(#cp)"><g transform="translate(1230,761.3) scale(0.46260,0.25) translate(-853,-25)">
<polyline class="s p" points="835,722 1485,722"/>
<polyline class="s o" points="853,640 858,630 862,600 866,570 870,530 875,500 880,520 884,560 888,510 893,540 897,590 902,520 906,450 910,420 915,380 920,300 925,210 930,320 935,420 940,270 945,290 950,270 955,440 958,570 962,500 966,470 970,480 975,470 980,500 985,420 990,350 995,280 1000,340 1005,480 1010,560 1015,600 1020,560 1025,520 1030,410 1035,400 1040,440 1045,500 1050,560 1055,620 1060,540 1065,500 1070,490 1075,580 1080,600 1085,430 1090,350 1095,360 1100,420 1106,500 1112,560 1118,590 1124,580 1130,560 1136,560 1140,530 1145,440 1150,420 1155,460 1160,560 1165,580 1170,600 1178,640 1184,710 1188,690 1192,620 1198,440 1203,410 1208,440 1214,520 1220,580 1226,620 1232,640 1238,560 1243,480 1248,460 1253,510 1258,560 1264,590 1270,600 1276,600 1282,620 1288,600 1295,560 1300,540 1305,520 1310,505 1316,530 1322,580 1328,650 1334,700 1340,680 1346,620 1352,560 1358,530 1364,550 1368,580 1374,640 1380,650 1386,660 1392,690 1398,700 1404,660 1410,640 1416,640 1422,620 1428,600 1433,560 1438,560 1444,600 1450,660 1456,690 1462,700 1466,680 1468,660"/>
<polyline class="s g" points="853,660 858,650 862,620 866,580 870,520 875,490 880,510 884,560 888,500 893,520 897,560 902,500 906,440 910,380 915,220 920,100 925,60 930,140 935,260 940,390 945,400 950,420 955,480 958,560 962,500 966,300 970,150 973,140 977,180 982,230 987,245 992,330 997,420 1003,500 1008,560 1013,350 1016,240 1020,260 1024,400 1030,560 1035,650 1040,680 1045,560 1050,420 1055,280 1060,145 1064,160 1068,260 1072,420 1076,550 1080,680 1085,560 1090,450 1096,400 1100,390 1106,470 1112,560 1116,540 1120,520 1126,560 1132,620 1136,570 1140,480 1145,420 1150,400 1155,420 1160,500 1165,540 1170,560 1175,540 1180,550 1184,600 1188,680 1192,610 1197,480 1202,420 1206,460 1212,540 1218,600 1225,640 1232,580 1238,470 1243,405 1248,395 1252,430 1257,500 1262,540 1268,560 1274,570 1280,580 1286,560 1292,520 1298,480 1305,420 1312,380 1318,400 1324,470 1330,540 1336,560 1342,520 1348,460 1355,400 1362,420 1368,480 1374,560 1380,580 1386,560 1392,600 1398,620 1404,580 1410,560 1416,560 1422,530 1428,510 1433,500 1438,520 1444,580 1450,630 1456,660 1462,700 1466,640 1468,580"/>
<polyline class="s b" points="853,660 858,650 862,620 866,580 870,520 875,490 880,510 884,560 888,500 893,520 897,560 902,500 906,440 910,380 915,250 920,130 925,110 930,200 935,280 940,390 945,400 950,420 955,480 958,560 962,520 966,360 970,220 973,175 977,200 982,250 987,265 992,350 997,420 1003,500 1008,560 1012,440 1016,350 1020,380 1024,480 1028,560 1032,620 1037,560 1042,460 1048,330 1054,270 1060,210 1064,220 1068,300 1072,440 1076,560 1080,600 1085,520 1090,450 1096,400 1100,440 1106,520 1112,560 1116,540 1120,500 1126,560 1132,600 1136,560 1140,480 1145,420 1150,400 1155,420 1160,500 1165,540 1170,560 1175,540 1180,550 1184,600 1188,680 1192,610 1197,480 1202,420 1206,460 1212,540 1218,600 1225,640 1232,580 1238,480 1243,420 1248,400 1252,430 1257,500 1262,540 1268,560 1274,570 1280,580 1286,560 1292,520 1298,480 1305,420 1312,380 1318,410 1324,480 1330,540 1336,560 1342,520 1348,460 1355,400 1362,420 1368,480 1374,560 1380,580 1386,560 1392,600 1398,620 1404,580 1410,560 1416,560 1422,530 1428,510 1433,500 1438,520 1444,580 1450,630 1456,660 1462,690 1466,640 1468,580"/>
</g></g>

<!-- Frames -->
<g class="fr">
<rect x="123" y="102.5" width="284.5" height="183"/><rect x="492" y="102.5" width="284.5" height="183"/><rect x="861" y="102.5" width="284.5" height="183"/><rect x="1230" y="102.5" width="284.5" height="183"/>
<rect x="123" y="322.1" width="284.5" height="183"/><rect x="492" y="322.1" width="284.5" height="183"/><rect x="861" y="322.1" width="284.5" height="183"/><rect x="1230" y="322.1" width="284.5" height="183"/>
<rect x="123" y="541.7" width="284.5" height="183"/><rect x="492" y="541.7" width="284.5" height="183"/><rect x="861" y="541.7" width="284.5" height="183"/><rect x="1230" y="541.7" width="284.5" height="183"/>
<rect x="123" y="761.3" width="284.5" height="183"/><rect x="492" y="761.3" width="284.5" height="183"/><rect x="861" y="761.3" width="284.5" height="183"/><rect x="1230" y="761.3" width="284.5" height="183"/>
</g>

<!-- Ticks -->
<g class="tk">
<path d="M110.7,156.2H123M110.7,211H123M110.7,266H123"/>
<path d="M479.7,143.1H492M479.7,190.7H492M479.7,238.1H492M479.7,285H492"/>
<path d="M848.7,132.1H861M848.7,220.5H861"/>
<path d="M1217.7,115.6H1230M1217.7,168H1230M1217.7,220H1230M1217.7,271.8H1230"/>
<path d="M110.7,324.6H123M110.7,386.2H123M110.7,447.8H123"/>
<path d="M479.7,357.4H492M479.7,410.9H492M479.7,465H492"/>
<path d="M848.7,344.9H861M848.7,412.2H861M848.7,479.1H861"/>
<path d="M1217.7,363.4H1230M1217.7,438.8H1230"/>
<path d="M110.7,611.6H123M110.7,702H123"/>
<path d="M479.7,611.1H492M479.7,687.3H492"/>
<path d="M848.7,573.2H861M848.7,619.6H861M848.7,666H861M848.7,712.6H861"/>
<path d="M1217.7,596.7H1230M1217.7,664.7H1230"/>
<path d="M110.7,812.05H123M110.7,873.8H123M110.7,935.55H123"/>
<path d="M479.7,777.05H492M479.7,829.55H492M479.7,882.55H492M479.7,935.55H492"/>
<path d="M848.7,796.3H861M848.7,842.55H861M848.7,889.3H861M848.7,935.55H861"/>
<path d="M1217.7,763.8H1230M1217.7,820.55H1230M1217.7,878.05H1230M1217.7,935.55H1230"/>
<path d="M163.64,944.3V957.2M244.93,944.3V957.2M326.21,944.3V957.2M407.5,944.3V957.2"/>
<path d="M532.64,944.3V957.2M613.93,944.3V957.2M695.21,944.3V957.2M776.5,944.3V957.2"/>
<path d="M901.64,944.3V957.2M982.93,944.3V957.2M1064.21,944.3V957.2M1145.5,944.3V957.2"/>
<path d="M1270.64,944.3V957.2M1351.93,944.3V957.2M1433.21,944.3V957.2M1514.5,944.3V957.2"/>
</g>

<!-- Y tick labels -->
<text class="tl" x="95.5" y="162.8">23.2</text><text class="tl" x="95.5" y="217.6">23.0</text><text class="tl" x="95.5" y="272.6">22.8</text>
<text class="tl" x="464.5" y="149.7">20.00</text><text class="tl" x="464.5" y="197.3">19.75</text><text class="tl" x="464.5" y="244.7">19.50</text><text class="tl" x="464.5" y="291.6">19.25</text>
<text class="tl" x="833.5" y="138.7">15</text><text class="tl" x="833.5" y="227.1">14</text>
<text class="tl" x="1202.5" y="122.2">11.0</text><text class="tl" x="1202.5" y="174.6">10.8</text><text class="tl" x="1202.5" y="226.6">10.6</text><text class="tl" x="1202.5" y="278.4">10.4</text>

<text class="tl" x="95.5" y="331.2">37.5</text><text class="tl" x="95.5" y="392.8">37.4</text><text class="tl" x="95.5" y="454.4">37.3</text>
<text class="tl" x="464.5" y="364">36.00</text><text class="tl" x="464.5" y="417.5">35.98</text><text class="tl" x="464.5" y="471.6">35.96</text>
<text class="tl" x="833.5" y="351.5">35.6</text><text class="tl" x="833.5" y="418.8">35.5</text><text class="tl" x="833.5" y="485.7">35.4</text>
<text class="tl" x="1202.5" y="370">35.0</text><text class="tl" x="1202.5" y="445.4">34.8</text>

<text class="tl" x="95.5" y="618.2">−0.4</text><text class="tl" x="95.5" y="708.6">−0.6</text>
<text class="tl" x="464.5" y="617.7">0</text><text class="tl" x="464.5" y="693.9">−1</text>
<text class="tl" x="833.5" y="579.8">1</text><text class="tl" x="833.5" y="626.2">0</text><text class="tl" x="833.5" y="672.6">−1</text><text class="tl" x="833.5" y="719.2">−2</text>
<text class="tl" x="1202.5" y="603.3">0.0</text><text class="tl" x="1202.5" y="671.3">−0.5</text>

<text class="tl" x="95.5" y="818.65">0.2</text><text class="tl" x="95.5" y="880.4">0.1</text><text class="tl" x="95.5" y="942.15">0.0</text>
<text class="tl" x="464.5" y="783.65">0.3</text><text class="tl" x="464.5" y="836.15">0.2</text><text class="tl" x="464.5" y="889.15">0.1</text><text class="tl" x="464.5" y="942.15">0.0</text>
<text class="tl" x="833.5" y="802.9">0.75</text><text class="tl" x="833.5" y="849.15">0.50</text><text class="tl" x="833.5" y="895.9">0.25</text><text class="tl" x="833.5" y="942.15">0.00</text>
<text class="tl" x="1202.5" y="770.4">0.6</text><text class="tl" x="1202.5" y="827.15">0.4</text><text class="tl" x="1202.5" y="884.65">0.2</text><text class="tl" x="1202.5" y="942.15">0.0</text>

<!-- X tick labels -->
<text class="xl" x="163.64" y="985">13/00h</text><text class="xl" x="244.93" y="985">15/00h</text><text class="xl" x="326.21" y="985">17/00h</text><text class="xl" x="407.5" y="985">19/00h</text>
<text class="xl" x="532.64" y="985">13/00h</text><text class="xl" x="613.93" y="985">15/00h</text><text class="xl" x="695.21" y="985">17/00h</text><text class="xl" x="776.5" y="985">19/00h</text>
<text class="xl" x="901.64" y="985">13/00h</text><text class="xl" x="982.93" y="985">15/00h</text><text class="xl" x="1064.21" y="985">17/00h</text><text class="xl" x="1145.5" y="985">19/00h</text>
<text class="xl" x="1270.64" y="985">13/00h</text><text class="xl" x="1351.93" y="985">15/00h</text><text class="xl" x="1433.21" y="985">17/00h</text><text class="xl" x="1514.5" y="985">19/00h</text>

<!-- Panel labels -->
<text class="pl" x="124.5" y="120">(a)</text><text class="pl" x="493.5" y="120">(b)</text><text class="pl" x="862.5" y="120">(c)</text><text class="pl" x="1231.5" y="120">(d)</text>
<text class="pl" x="124.5" y="339.6">(e)</text><text class="pl" x="493.5" y="339.6">(f)</text><text class="pl" x="862.5" y="339.6">(g)</text><text class="pl" x="1231.5" y="339.6">(h)</text>
<text class="pl" x="124.5" y="559.2">(i)</text><text class="pl" x="493.5" y="559.2">(j)</text><text class="pl" x="862.5" y="559.2">(k)</text><text class="pl" x="1231.5" y="559.2">(l)</text>
<text class="pl" x="124.5" y="778.8">(m)</text><text class="pl" x="493.5" y="778.8">(n)</text><text class="pl" x="862.5" y="778.8">(o)</text><text class="pl" x="1231.5" y="778.8">(p)</text>
</g>
</svg>
</body></html>
